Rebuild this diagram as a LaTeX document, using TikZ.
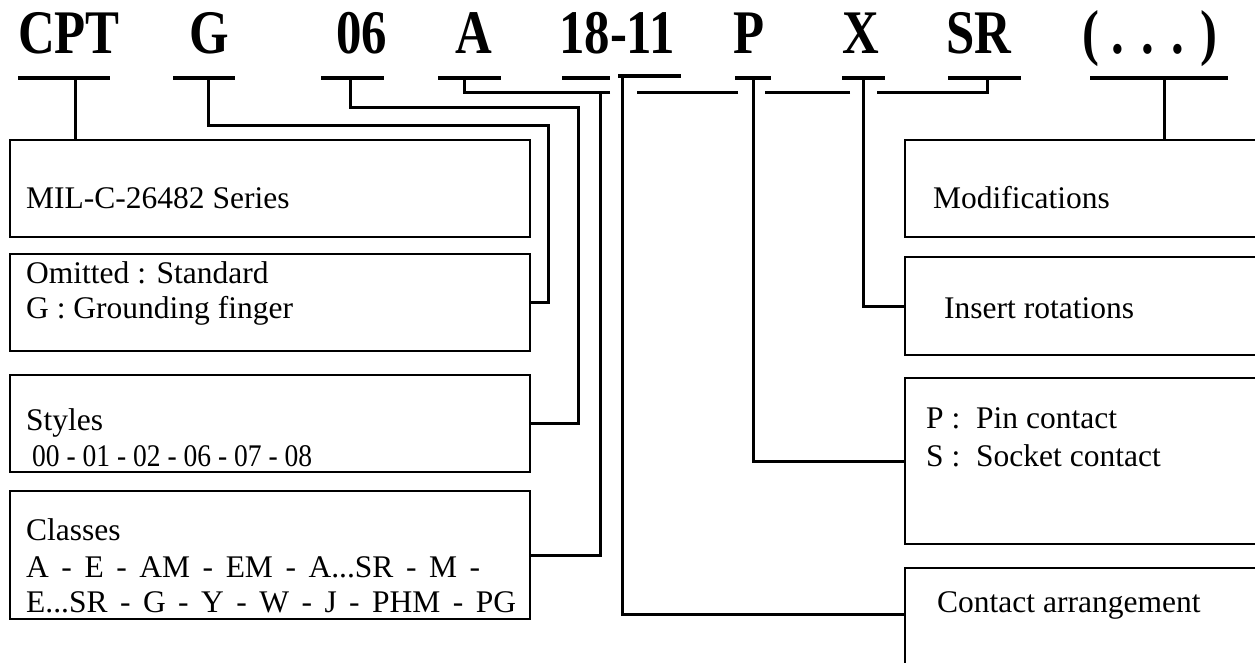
\documentclass[tikz,border=0pt]{standalone}
\usepackage{fontspec}
\setmainfont{Liberation Serif}
\usepackage{graphicx}
\begin{document}
\begin{tikzpicture}[x=1pt,y=-1pt,
  hdr/.style={anchor=base west,inner sep=0pt,font=\fontsize{62}{62}\selectfont\bfseries},
  txt/.style={anchor=base west,inner sep=0pt,font=\fontsize{31.5}{36}\selectfont},
  bar/.style={line width=3.5pt},
  conn/.style={line width=3pt},
  box/.style={draw,line width=2.6pt,rectangle,inner sep=0pt,outer sep=0pt,anchor=north west}]
\useasboundingbox (0,0) rectangle (1255,662);
\clip (0,0) rectangle (1255,662);
\fill[white] (0,0) rectangle (1255,662);

% header codes
\node[hdr] (hcpt) at (18,53) {\scalebox{0.82}[1]{CPT}};
\node[hdr] (hg) at (189,53) {\scalebox{0.82}[1]{G}};
\node[hdr] (h06) at (336,53) {\scalebox{0.82}[1]{06}};
\node[hdr] (ha) at (455,53) {\scalebox{0.82}[1]{A}};
\node[hdr] (h18) at (559,53) {\scalebox{0.82}[1]{18-11}};
\node[hdr] (hp) at (733,53) {\scalebox{0.82}[1]{P}};
\node[hdr] (hx) at (842,53) {\scalebox{0.82}[1]{X}};
\node[hdr] (hsr) at (946,53) {\scalebox{0.82}[1]{SR}};
\node[hdr] (hdots) at (1082,53) {\scalebox{0.82}[1]{( . . . )}};

% underline bars
\draw[bar] (18,78) -- (110,78);
\draw[bar] (173,78) -- (235,78);
\draw[bar] (321,78) -- (384,78);
\draw[bar] (438,78) -- (501,78);
\draw[bar] (562,78) -- (610,78);
\draw[bar] (618,76) -- (681,76);
\draw[bar] (735,78) -- (771,78);
\draw[bar] (842,78) -- (885,78);
\draw[bar] (948,78) -- (1021,78);
\draw[bar] (1090,78) -- (1228,78);

% stem start points
\coordinate (scpt) at (75,78);
\coordinate (sg) at (208,78);
\coordinate (s06) at (350,78);
\coordinate (sa) at (464,78);
\coordinate (s18) at (622,76);
\coordinate (sp) at (753,78);
\coordinate (sx) at (863,78);
\coordinate (ssr) at (987,78);
\coordinate (sdots) at (1164,78);

% left boxes
\node[box,minimum width=520pt,minimum height=97pt] (mil) at (10,140) {};
\node[box,minimum width=520pt,minimum height=97pt] (omit) at (10,254) {};
\node[box,minimum width=520pt,minimum height=97pt] (sty) at (10,375) {};
\node[box,minimum width=520pt,minimum height=128pt] (cls) at (10,491) {};

% right boxes (cut by the right edge)
\node[box,minimum width=400pt,minimum height=97pt] (mod) at (905,140) {};
\node[box,minimum width=400pt,minimum height=98pt] (ins) at (905,257) {};
\node[box,minimum width=400pt,minimum height=166pt] (ps) at (905,378) {};
\node[box,minimum width=400pt,minimum height=160pt] (con) at (905,568) {};
\coordinate (conin) at (905,614);

% texts
\node[txt] (tmil) at (26,208) {MIL-C-26482 Series};
\node[txt] (tom1) at (26,283) {Omitted : Standard};
\node[txt] (tom2) at (26,318) {G : Grounding finger};
\node[txt] (tst1) at (26,430) {Styles};
\node[txt] (tst2) at (32,466) {\resizebox{280pt}{\height}{00 - 01 - 02 - 06 - 07 - 08}};
\node[txt] (tcl1) at (26,540) {Classes};
\node[txt] (tcl2) at (26,577) {\makebox[454pt][s]{A - E - AM - EM - A...SR - M -}};
\node[txt] (tcl3) at (26,612) {\makebox[490pt][s]{E...SR - G - Y - W - J - PHM - PG}};
\node[txt] (tmod) at (933,208) {Modifications};
\node[txt] (tins) at (944,318) {Insert rotations};
\node[txt] (tps1) at (926,428) {\makebox[50pt][l]{P :}Pin contact};
\node[txt] (tps2) at (926,466) {\makebox[50pt][l]{S :}Socket contact};
\node[txt] (tcon) at (937,612) {Contact arrangement};

% connectors
\draw[conn] (scpt) -- (scpt |- mil.north);
\draw[conn] (sg) |- (548,125) |- (omit.east);
\draw[conn] (s06) |- (578,107) |- (sty.east);
\draw[conn] (sa) |- (600,92) |- (cls.east);
\draw[conn] (ssr) |- (877,92) (850,92) -- (765,92) (738,92) -- (637,92) (610,92) -- (600,92);
\draw[conn] (s18) |- (conin);
\draw[conn] (sp) |- (ps.west);
\draw[conn] (sx) |- (ins.west);
\draw[conn] (sdots) -- (sdots |- mod.north);
\end{tikzpicture}
\end{document}
